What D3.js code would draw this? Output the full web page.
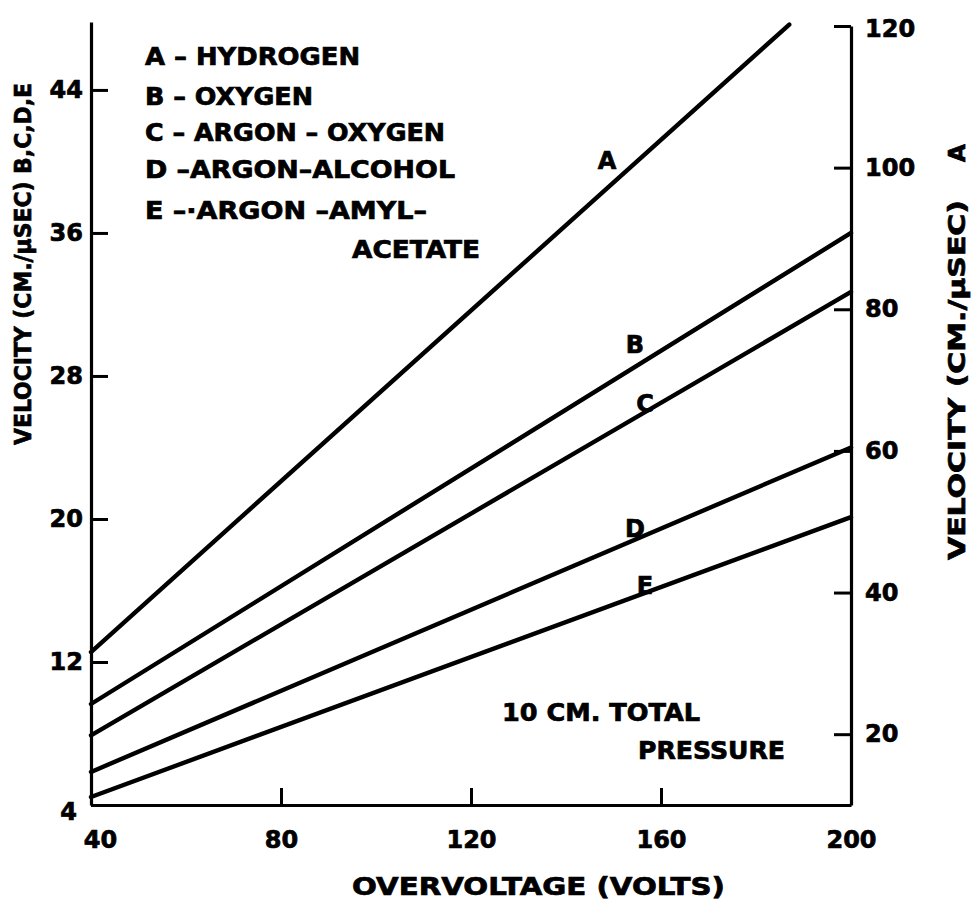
<!DOCTYPE html>
<html>
<head>
<meta charset="utf-8">
<script src="https://cdn.jsdelivr.net/npm/d3@7"></script>
<style>
  html, body { margin: 0; padding: 0; background: #fff; }
  svg { display: block; }
  text { font-family: "DejaVu Sans", sans-serif; font-weight: bold; fill: #000; stroke: #000; stroke-width: 0.7px; }
</style>
</head>
<body>
<script>
// ---- data ----
const xTicks = [40, 80, 120, 160, 200];
const leftTicks = [4, 12, 20, 28, 36, 44];
const rightTicks = [20, 40, 60, 80, 100, 120];
const seriesKeys = ["A", "B", "C", "D", "E"];
const seriesAxis = ["right", "left", "left", "left", "left"];
const voltsA = [40, 187];
const velocityA = [31.6, 120.2];
const voltsBCDE = [40, 200];
const velocityB = [9.65, 36.0];
const velocityC = [7.9, 32.7];
const velocityD = [5.85, 24.0];
const velocityE = [4.45, 20.1];
const legendLines = ["A \u2013 HYDROGEN", "B \u2013 OXYGEN", "C \u2013 ARGON \u2013 OXYGEN", "D \u2013ARGON\u2013ALCOHOL", "E \u2013\u00b7ARGON \u2013AMYL\u2013", "ACETATE"];
const noteLines = ["10 CM. TOTAL", "PRESSURE"];
const xTitle = "OVERVOLTAGE  (VOLTS)";
const leftTitle = "VELOCITY  (CM./\u03bcSEC)  B,C,D,E";
const rightTitle = "VELOCITY  (CM./\u03bcSEC)";
const rightTitleKey = "A";

const W = 971, H = 900;
const svg = d3.select("body").append("svg").attr("width", W).attr("height", H);

const x = d3.scaleLinear().domain([40, 200]).range([91, 851]);
const yL = d3.scaleLinear().domain([4, 47.8]).range([805, 22]);
const yR = d3.scaleLinear().domain([10, 120]).range([805, 26]);

// axes
const axBottom = svg.append("g").attr("transform", "translate(0,805)")
  .call(d3.axisBottom(x).tickValues(xTicks).tickSizeInner(-17).tickSizeOuter(0).tickPadding(26).tickFormat(d3.format("d")));
const axLeft = svg.append("g").attr("transform", "translate(91,0)")
  .call(d3.axisLeft(yL).tickValues(leftTicks).tickSizeInner(-17).tickSizeOuter(0).tickPadding(8).tickFormat(d3.format("d")));
const axRight = svg.append("g").attr("transform", "translate(851,0)")
  .call(d3.axisRight(yR).tickValues(rightTicks).tickSizeInner(-17).tickSizeOuter(0).tickPadding(14).tickFormat(d3.format("d")));

[axBottom, axLeft, axRight].forEach(g => {
  g.select(".domain").attr("stroke", "#000").attr("stroke-width", 3.2);
  g.selectAll(".tick line").attr("stroke", "#000").attr("stroke-width", 3);
  g.selectAll(".tick text").attr("font-size", 24).attr("font-family", "DejaVu Sans").attr("font-weight", "bold").attr("fill", "#000");
});
axBottom.selectAll(".tick text").attr("dx", d => d === 40 ? 9 : 0);
axLeft.selectAll(".tick text").attr("dy", d => d === 4 ? "0.6em" : "0.32em").attr("dx", d => d === 4 ? -6 : 0);
axRight.selectAll(".tick text").attr("dy", d => d === 120 ? "0.42em" : "0.32em");

// series lines
const series = [
  { key: "A", axis: yR, xs: voltsA, ys: velocityA, lx: 607, ly: 169 },
  { key: "B", axis: yL, xs: voltsBCDE, ys: velocityB, lx: 635, ly: 353 },
  { key: "C", axis: yL, xs: voltsBCDE, ys: velocityC, lx: 645, ly: 412 },
  { key: "D", axis: yL, xs: voltsBCDE, ys: velocityD, lx: 635, ly: 537 },
  { key: "E", axis: yL, xs: voltsBCDE, ys: velocityE, lx: 645, ly: 594 }
];
series.forEach(s => {
  const pts = s.xs.map((v, i) => [v, s.ys[i]]);
  const line = d3.line().x(d => x(d[0])).y(d => s.axis(d[1]));
  svg.append("path").attr("d", line(pts)).attr("fill", "none")
    .attr("stroke", "#000").attr("stroke-width", 4.4).attr("stroke-linecap", "round");
  svg.append("text").attr("x", s.lx).attr("y", s.ly).attr("text-anchor", "middle")
    .attr("font-size", 24).text(s.key);
});

// legend
const legPos = [[145, 65, 215], [145, 105, 168], [145, 141, 300], [145, 178, 310], [145, 219, 282], [352, 258, 128]];
legendLines.forEach((t, i) => {
  svg.append("text").attr("x", legPos[i][0]).attr("y", legPos[i][1])
    .attr("font-size", 24).attr("textLength", legPos[i][2]).attr("lengthAdjust", "spacingAndGlyphs").text(t);
});

// note
const notePos = [[502, 721, 198], [638, 759, 147]];
noteLines.forEach((t, i) => {
  svg.append("text").attr("x", notePos[i][0]).attr("y", notePos[i][1])
    .attr("font-size", 24).attr("textLength", notePos[i][2]).attr("lengthAdjust", "spacingAndGlyphs").text(t);
});

// axis titles
svg.append("text").attr("x", 352).attr("y", 895).attr("font-size", 24)
  .attr("textLength", 373).attr("lengthAdjust", "spacingAndGlyphs").text(xTitle);
svg.append("text").attr("transform", "translate(31,445) rotate(-90)").attr("font-size", 23)
  .attr("textLength", 362).attr("lengthAdjust", "spacingAndGlyphs").text(leftTitle);
svg.append("text").attr("transform", "translate(965,560) rotate(-90)").attr("font-size", 23)
  .attr("textLength", 360).attr("lengthAdjust", "spacingAndGlyphs").text(rightTitle);
svg.append("text").attr("transform", "translate(965,162) rotate(-90)").attr("font-size", 23)
  .text(rightTitleKey);
</script>
</body>
</html>
